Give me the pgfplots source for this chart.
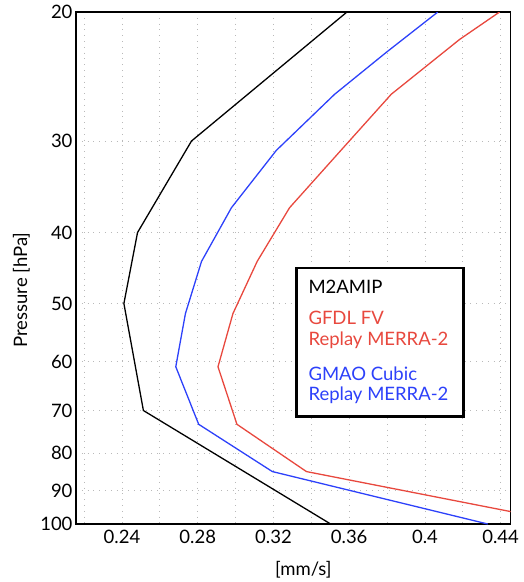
\documentclass[border=0pt]{standalone}
\usepackage{pgfplots}
\pgfplotsset{compat=1.18}
\usepackage{fontspec}
\setmainfont{Lato}
\definecolor{gfdlred}{RGB}{232,72,62}
\definecolor{gmaoblue}{RGB}{45,65,250}

\begin{document}
\begin{tikzpicture}
\useasboundingbox (-76pt,-58pt) rectangle (447pt,524pt);
\begin{axis}[
  scale only axis, width=434.7pt, height=512pt,
  xmin=0.2157, xmax=0.4453,
  ymode=log, ymin=20, ymax=100, y dir=reverse,
  xtick={0.24,0.28,0.32,0.36,0.40,0.44},
  minor xtick={0.22,0.26,0.30,0.34,0.38,0.42},
  ytick={20,30,40,50,60,70,80,90,100},
  log ticks with fixed point,
  /pgf/number format/assume math mode=true,
  xticklabel style={/pgf/number format/fixed, /pgf/number format/precision=2, yshift=-3pt},
  tick label style={font=\fontsize{18.5}{22}\selectfont},
  major tick length=0pt, minor tick length=0pt,
  grid=both,
  grid style={gray!55, line width=0.8pt, dash pattern=on 0.8pt off 5pt},
  axis line style={black, line width=1.4pt},
  xlabel={[mm/s]},
  ylabel={Pressure [hPa]},
  label style={font=\fontsize{18.5}{22}\selectfont},
  xlabel style={at={(axis description cs:0.523,-0.0893)}, anchor=center},
  ylabel style={at={(axis description cs:-0.1258,0.457)}, anchor=center},
]
\addplot[black, line width=1.3pt] coordinates {
  (0.3588,20) (0.2767,30) (0.2482,40) (0.2410,50) (0.2513,70) (0.3502,100)
};
\addplot[gmaoblue, line width=1.3pt] coordinates {
  (0.4068,20) (0.3796,22.7) (0.3523,25.9) (0.3215,30.9) (0.2978,37.0)
  (0.2820,43.8) (0.2735,51.6) (0.2684,61.0) (0.2805,73.1) (0.3194,84.8)
  (0.4332,100)
};
\addplot[gfdlred, line width=1.3pt] coordinates {
  (0.4394,20) (0.4183,21.8) (0.3822,25.9) (0.3556,30.9) (0.3285,37.0)
  (0.3114,43.8) (0.2986,51.6) (0.2907,61.0) (0.3007,73.1) (0.3374,84.8)
  (0.4788,100)
};
% legend box with coloured text
\draw[black, line width=2.5pt, fill=white]
  (rel axis cs:0.5077,0.5) rectangle (rel axis cs:0.891,0.2096);
\begin{scope}[every node/.style={anchor=base west, inner sep=0pt,
    font=\fontsize{18.5}{22}\selectfont}]
  \node at (rel axis cs:0.5344,0.4506) {M2AMIP};
  \node[text=gfdlred] at (rel axis cs:0.5344,0.3900) {GFDL FV};
  \node[text=gfdlred] at (rel axis cs:0.5344,0.3496) {Replay MERRA-2};
  \node[text=gmaoblue] at (rel axis cs:0.5344,0.2799) {GMAO Cubic};
  \node[text=gmaoblue] at (rel axis cs:0.5344,0.2408) {Replay MERRA-2};
\end{scope}
\end{axis}
\end{tikzpicture}
\end{document}
